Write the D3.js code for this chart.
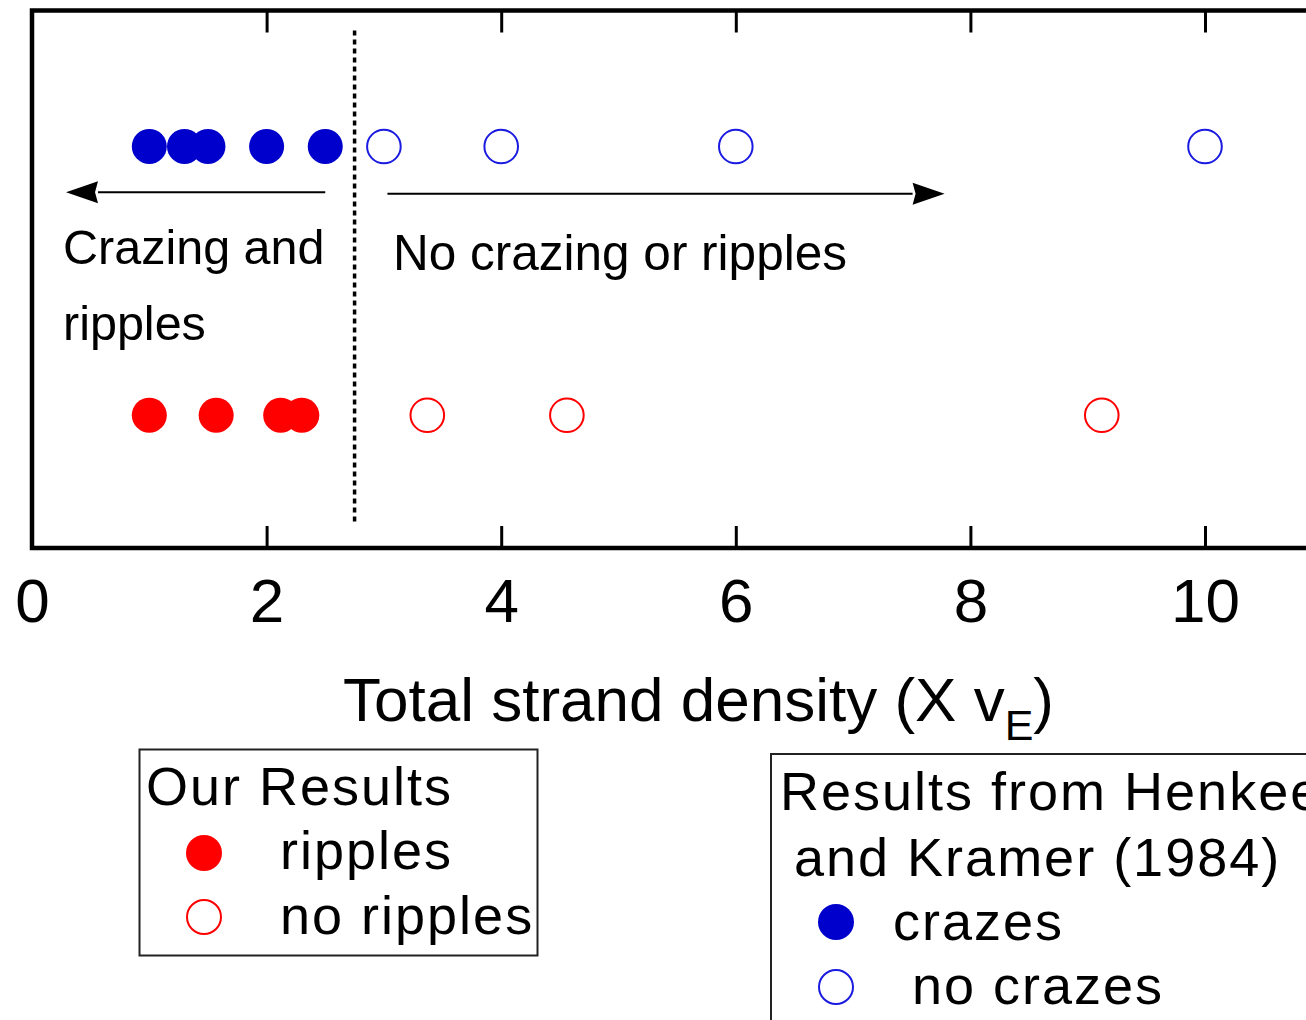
<!DOCTYPE html>
<html>
<head>
<meta charset="utf-8">
<script src="https://cdn.jsdelivr.net/npm/d3@7"></script>
<style>
  html, body { margin: 0; padding: 0; background: #fff; overflow: hidden; }
  svg { display: block; font-family: "Liberation Sans", Arial, sans-serif; }
</style>
</head>
<body>
<svg id="chart" width="1306" height="1020"></svg>
<script>
// Total strand density for each sample (units of X v_E)
const henkeeCrazes   = [1.0, 1.3, 1.5, 2.0, 2.5];
const henkeeNoCrazes = [3.0, 4.0, 6.0, 10.0];
const ourRipples     = [1.0, 1.57, 2.12, 2.3];
const ourNoRipples   = [3.37, 4.56, 9.12];

// Row positions (fraction of plot height) and the regime boundary
const rowHenkee = 0.747;
const rowOurs = 0.247;
const boundary = 2.75;
const xTicks = [0, 2, 4, 6, 8, 10];

const svg = d3.select("#chart");
const plotLeft = 32, plotTop = 10.5, plotBottom = 548;
const unit = 117.3;

const x = d3.scaleLinear().domain([0, 12]).range([plotLeft, plotLeft + 12 * unit]);
const y = d3.scaleLinear().domain([0, 1]).range([plotBottom, plotTop]);

const blue = "#0000cc", red = "#ff0000";

// frame
svg.append("path")
  .attr("d", `M${x(12)},${y(1)} H${x(0)} V${y(0)} H${x(12)}`)
  .attr("fill", "none").attr("stroke", "#000").attr("stroke-width", 4.5);

// ticks on bottom and top, pointing inward
const bottomAxis = d3.axisBottom(x).tickValues(xTicks).tickSizeInner(-22).tickSizeOuter(0);
const gb = svg.append("g").attr("transform", `translate(0,${y(0)})`).call(bottomAxis);
gb.select(".domain").remove();
gb.selectAll(".tick line").attr("stroke-width", 3);
gb.selectAll(".tick text").attr("font-size", 62).attr("fill", "#000")
  .attr("font-family", "'Liberation Sans', Arial, sans-serif")
  .attr("dy", 0).attr("y", 74);

const topAxis = d3.axisTop(x).tickValues(xTicks).tickSizeInner(-22).tickSizeOuter(0).tickFormat("");
const gt = svg.append("g").attr("transform", `translate(0,${y(1)})`).call(topAxis);
gt.select(".domain").remove();
gt.selectAll(".tick line").attr("stroke-width", 3);

// regime boundary
svg.append("line")
  .attr("x1", x(boundary)).attr("x2", x(boundary))
  .attr("y1", y(0.963)).attr("y2", y(0.043))
  .attr("stroke", "#000").attr("stroke-width", 3.5).attr("stroke-dasharray", "5,4");

// arrows
function arrow(x0, x1, yv) {
  const px0 = x(x0), px1 = x(x1), py = y(yv);
  const dir = Math.sign(px1 - px0);
  const base = px1 - dir * 32;
  svg.append("line").attr("x1", px0).attr("x2", base).attr("y1", py).attr("y2", py)
    .attr("stroke", "#000").attr("stroke-width", 2);
  svg.append("path")
    .attr("d", `M${px1},${py} L${base},${py - 11} L${base + dir * 3},${py} L${base},${py + 11} Z`)
    .attr("fill", "#000");
}
arrow(2.5, 0.29, 0.662);
arrow(3.03, 7.78, 0.659);

// region labels
const labels = svg.append("g").attr("font-size", 48.5).attr("fill", "#000");
labels.append("text").attr("x", 63).attr("y", 264).text("Crazing and");
labels.append("text").attr("x", 63).attr("y", 340).text("ripples");
labels.append("text").attr("x", 393).attr("y", 270).attr("font-size", 49.5).text("No crazing or ripples");

// data points
svg.append("g").selectAll("circle").data(henkeeCrazes).join("circle")
  .attr("cx", d => x(d)).attr("cy", y(rowHenkee)).attr("r", 17.5).attr("fill", blue);
svg.append("g").selectAll("circle").data(henkeeNoCrazes).join("circle")
  .attr("cx", d => x(d)).attr("cy", y(rowHenkee)).attr("r", 16.8)
  .attr("fill", "none").attr("stroke", "#1a1ae0").attr("stroke-width", 2);
svg.append("g").selectAll("circle").data(ourRipples).join("circle")
  .attr("cx", d => x(d)).attr("cy", y(rowOurs)).attr("r", 17.5).attr("fill", red);
svg.append("g").selectAll("circle").data(ourNoRipples).join("circle")
  .attr("cx", d => x(d)).attr("cy", y(rowOurs)).attr("r", 16.8)
  .attr("fill", "none").attr("stroke", red).attr("stroke-width", 2);

// axis title
const title = svg.append("text").attr("x", 343).attr("y", 721).attr("font-size", 62).attr("fill", "#000");
title.append("tspan").text("Total strand density (X v");
title.append("tspan").attr("font-size", 43).attr("dy", 19).text("E");
title.append("tspan").attr("dy", -19).text(")");

// legend: our results
const leg1 = svg.append("g").attr("font-size", 54).attr("letter-spacing", 2).attr("fill", "#000");
leg1.append("rect").attr("x", 139.5).attr("y", 749.5).attr("width", 398).attr("height", 206)
  .attr("fill", "none").attr("stroke", "#222").attr("stroke-width", 2);
leg1.append("text").attr("x", 146).attr("y", 805).text("Our Results");
leg1.append("circle").attr("cx", 204).attr("cy", 853).attr("r", 18).attr("fill", red);
leg1.append("text").attr("x", 280).attr("y", 869).text("ripples");
leg1.append("circle").attr("cx", 204).attr("cy", 917).attr("r", 17).attr("fill", "none")
  .attr("stroke", red).attr("stroke-width", 2);
leg1.append("text").attr("x", 280).attr("y", 934).text("no ripples");

// legend: Henkee and Kramer
const leg2 = svg.append("g").attr("font-size", 54).attr("letter-spacing", 2).attr("fill", "#000");
leg2.append("rect").attr("x", 771).attr("y", 754).attr("width", 600).attr("height", 320)
  .attr("fill", "none").attr("stroke", "#222").attr("stroke-width", 2);
leg2.append("text").attr("x", 780).attr("y", 810).text("Results from Henkee");
leg2.append("text").attr("x", 794).attr("y", 876).text("and Kramer (1984)");
leg2.append("circle").attr("cx", 836).attr("cy", 922).attr("r", 18).attr("fill", blue);
leg2.append("text").attr("x", 893).attr("y", 940).text("crazes");
leg2.append("circle").attr("cx", 836).attr("cy", 987).attr("r", 17).attr("fill", "none")
  .attr("stroke", "#1a1ae0").attr("stroke-width", 2);
leg2.append("text").attr("x", 912).attr("y", 1004).text("no crazes");
</script>
</body>
</html>
